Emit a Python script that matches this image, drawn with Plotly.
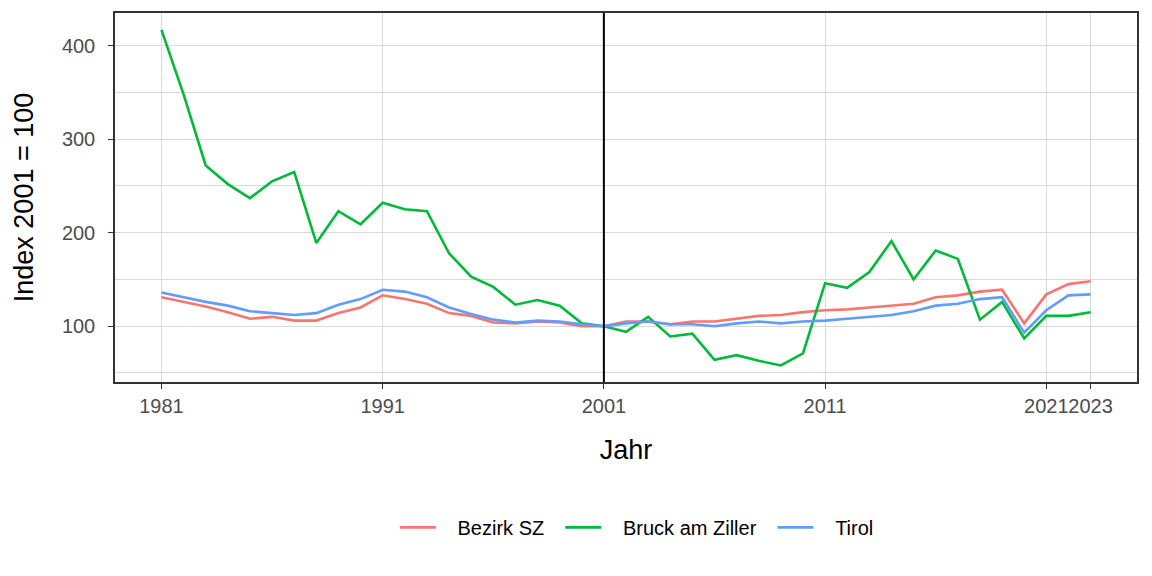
import plotly.graph_objects as go

years = list(range(1981, 2024))
bezirk_sz = [131, 126, 121, 115, 108, 110, 106, 106, 114, 120,
             133, 129, 124, 114, 111, 104, 103, 105, 104, 100,
             100, 105, 105, 102, 105, 105, 108, 111, 112, 115,
             117, 118, 120, 122, 124, 131, 133, 137, 139, 103,
             134, 145, 148]
bruck = [417, 348, 272, 252, 237, 255, 265, 189, 223, 209,
         232, 225, 223, 178, 153, 142, 123, 128, 122, 103,
         100, 94, 110, 89, 92, 64, 69, 63, 58, 71,
         146, 141, 158, 191, 150, 181, 172, 107, 126, 87,
         111, 111, 115]
tirol = [136, 131, 126, 122, 116, 114, 112, 114, 123, 129,
         139, 137, 131, 120, 113, 107, 104, 106, 105, 102,
         100, 103, 105, 102, 102, 100, 103, 105, 103, 105,
         106, 108, 110, 112, 116, 122, 124, 129, 131, 93,
         117, 133, 134]
series_names = ["Bezirk SZ", "Bruck am Ziller", "Tirol"]
series_colors = ["#F8766D", "#00BA38", "#619CFF"]
x_ticks = [1981, 1991, 2001, 2011, 2021, 2023]
y_ticks = [100, 200, 300, 400]
y_minor = [50, 150, 250, 350]
ref_year = 2001

FONT = "Liberation Sans, Arial, sans-serif"
NB = "\u00a0"

fig = go.Figure()
for name, vals, col in zip(series_names, [bezirk_sz, bruck, tirol], series_colors):
    fig.add_trace(go.Scatter(x=years, y=vals, mode="lines",
                             name=NB * 3 + name + NB * 2,
                             line=dict(color=col, width=2.6)))

fig.add_vline(x=ref_year, line=dict(color="black", width=2))

axis_common = dict(
    showline=True, linecolor="#333333", linewidth=1.5, mirror=True,
    ticks="outside", ticklen=5, tickwidth=1, tickcolor="#333333",
    showgrid=True, gridcolor="#d9d9d9", gridwidth=1, zeroline=False,
    tickfont=dict(family=FONT, size=20, color="#4d4d4d"),
)

fig.update_xaxes(
    **axis_common,
    range=[1978.9, 2025.1], tickmode="array", tickvals=x_ticks,
    ticktext=[str(v) for v in x_ticks], tickangle=0,
    title=dict(text="Jahr", font=dict(family=FONT, size=27, color="black"), standoff=24),
)
fig.update_yaxes(
    **axis_common,
    range=[40.3, 435], tickmode="array", tickvals=y_ticks,
    minor=dict(tickvals=y_minor, showgrid=True, gridcolor="#d9d9d9", gridwidth=1, ticks=""),
    ticklabelstandoff=9,
    title=dict(text="Index 2001 = 100", font=dict(family=FONT, size=27, color="black"), standoff=20),
)

fig.update_layout(
    width=1152, height=576,
    margin=dict(l=115, r=15, t=13, b=194),
    plot_bgcolor="white", paper_bgcolor="white",
    font=dict(family=FONT),
    showlegend=True,
    legend=dict(orientation="h", x=0.516, xanchor="center", y=-0.394, yanchor="middle",
                font=dict(family=FONT, size=20, color="black"), itemwidth=36),
)

fig.write_html("out.html")
